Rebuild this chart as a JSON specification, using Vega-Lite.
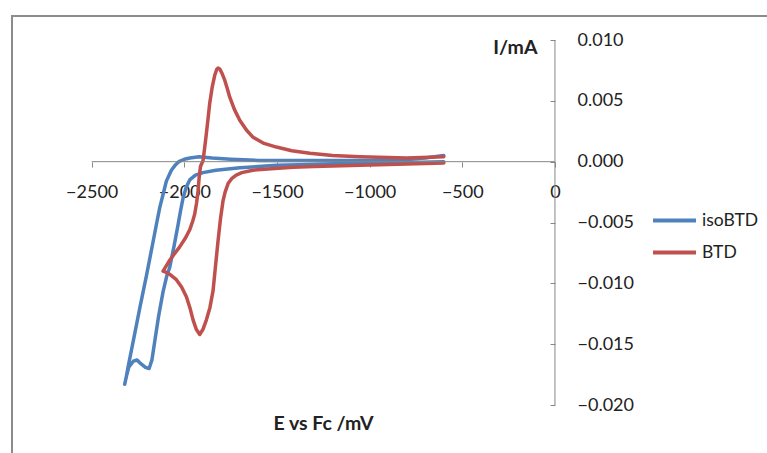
{
  "$schema": "https://vega.github.io/schema/vega-lite/v6.json",
  "width": 757,
  "height": 439,
  "autosize": {"type": "none"},
  "padding": {"left": 12, "top": 16, "right": -2, "bottom": -2},
  "background": "white",
  "config": {
    "view": {"stroke": "#8c8c8c", "strokeWidth": 2},
    "font": "Lato",
    "axis": {
      "grid": false,
      "domain": false,
      "tickColor": "#868686",
      "tickWidth": 1,
      "labelFont": "Lato",
      "labelFontSize": 18,
      "labelColor": "#222222",
      "titleFont": "Lato",
      "titleFontSize": 19.5,
      "titleFontWeight": "bold",
      "titleColor": "#222222"
    }
  },
  "layer": [
    {
      "data": {"values": [
        {"series": "isoBTD", "i": 0, "E": -600, "I": 0.0005},
        {"series": "isoBTD", "i": 1, "E": -700, "I": 0.0003},
        {"series": "isoBTD", "i": 2, "E": -800, "I": 0.0002},
        {"series": "isoBTD", "i": 3, "E": -1000, "I": 0.0001},
        {"series": "isoBTD", "i": 4, "E": -1200, "I": 0.0001},
        {"series": "isoBTD", "i": 5, "E": -1400, "I": 0.0001},
        {"series": "isoBTD", "i": 6, "E": -1600, "I": 0.0001},
        {"series": "isoBTD", "i": 7, "E": -1750, "I": 0.0002},
        {"series": "isoBTD", "i": 8, "E": -1850, "I": 0.0003},
        {"series": "isoBTD", "i": 9, "E": -1920, "I": 0.0004},
        {"series": "isoBTD", "i": 10, "E": -1970, "I": 0.0003},
        {"series": "isoBTD", "i": 11, "E": -2000, "I": 0.0002},
        {"series": "isoBTD", "i": 12, "E": -2030, "I": 0.0000},
        {"series": "isoBTD", "i": 13, "E": -2050, "I": -0.0003},
        {"series": "isoBTD", "i": 14, "E": -2070, "I": -0.0007},
        {"series": "isoBTD", "i": 15, "E": -2097, "I": -0.0016},
        {"series": "isoBTD", "i": 16, "E": -2115, "I": -0.0027},
        {"series": "isoBTD", "i": 17, "E": -2133, "I": -0.0038},
        {"series": "isoBTD", "i": 18, "E": -2150, "I": -0.0051},
        {"series": "isoBTD", "i": 19, "E": -2169, "I": -0.0066},
        {"series": "isoBTD", "i": 20, "E": -2205, "I": -0.0094},
        {"series": "isoBTD", "i": 21, "E": -2240, "I": -0.0120},
        {"series": "isoBTD", "i": 22, "E": -2275, "I": -0.0147},
        {"series": "isoBTD", "i": 23, "E": -2300, "I": -0.0166},
        {"series": "isoBTD", "i": 24, "E": -2315, "I": -0.0178},
        {"series": "isoBTD", "i": 25, "E": -2322, "I": -0.0183},
        {"series": "isoBTD", "i": 26, "E": -2312, "I": -0.0176},
        {"series": "isoBTD", "i": 27, "E": -2300, "I": -0.0169},
        {"series": "isoBTD", "i": 28, "E": -2275, "I": -0.0164},
        {"series": "isoBTD", "i": 29, "E": -2255, "I": -0.0163},
        {"series": "isoBTD", "i": 30, "E": -2235, "I": -0.0166},
        {"series": "isoBTD", "i": 31, "E": -2210, "I": -0.0169},
        {"series": "isoBTD", "i": 32, "E": -2190, "I": -0.0170},
        {"series": "isoBTD", "i": 33, "E": -2175, "I": -0.0163},
        {"series": "isoBTD", "i": 34, "E": -2160, "I": -0.0148},
        {"series": "isoBTD", "i": 35, "E": -2140, "I": -0.0128},
        {"series": "isoBTD", "i": 36, "E": -2115, "I": -0.0107},
        {"series": "isoBTD", "i": 37, "E": -2095, "I": -0.0094},
        {"series": "isoBTD", "i": 38, "E": -2079, "I": -0.0087},
        {"series": "isoBTD", "i": 39, "E": -2055, "I": -0.0069},
        {"series": "isoBTD", "i": 40, "E": -2034, "I": -0.0052},
        {"series": "isoBTD", "i": 41, "E": -2020, "I": -0.0040},
        {"series": "isoBTD", "i": 42, "E": -2007, "I": -0.0030},
        {"series": "isoBTD", "i": 43, "E": -1990, "I": -0.0021},
        {"series": "isoBTD", "i": 44, "E": -1971, "I": -0.0015},
        {"series": "isoBTD", "i": 45, "E": -1940, "I": -0.0011},
        {"series": "isoBTD", "i": 46, "E": -1900, "I": -0.0009},
        {"series": "isoBTD", "i": 47, "E": -1830, "I": -0.0007},
        {"series": "isoBTD", "i": 48, "E": -1700, "I": -0.0005},
        {"series": "isoBTD", "i": 49, "E": -1500, "I": -0.0003},
        {"series": "isoBTD", "i": 50, "E": -1200, "I": -0.0002},
        {"series": "isoBTD", "i": 51, "E": -900, "I": -0.0001},
        {"series": "isoBTD", "i": 52, "E": -600, "I": 0.0000},
        {"series": "BTD", "i": 0, "E": -600, "I": -0.0001},
        {"series": "BTD", "i": 1, "E": -800, "I": -0.0002},
        {"series": "BTD", "i": 2, "E": -1050, "I": -0.0003},
        {"series": "BTD", "i": 3, "E": -1300, "I": -0.0004},
        {"series": "BTD", "i": 4, "E": -1414, "I": -0.00045},
        {"series": "BTD", "i": 5, "E": -1550, "I": -0.0006},
        {"series": "BTD", "i": 6, "E": -1630, "I": -0.0007},
        {"series": "BTD", "i": 7, "E": -1690, "I": -0.0009},
        {"series": "BTD", "i": 8, "E": -1720, "I": -0.0011},
        {"series": "BTD", "i": 9, "E": -1745, "I": -0.0014},
        {"series": "BTD", "i": 10, "E": -1764, "I": -0.0018},
        {"series": "BTD", "i": 11, "E": -1780, "I": -0.0025},
        {"series": "BTD", "i": 12, "E": -1791, "I": -0.0032},
        {"series": "BTD", "i": 13, "E": -1805, "I": -0.0047},
        {"series": "BTD", "i": 14, "E": -1818, "I": -0.0065},
        {"series": "BTD", "i": 15, "E": -1832, "I": -0.0086},
        {"series": "BTD", "i": 16, "E": -1845, "I": -0.0106},
        {"series": "BTD", "i": 17, "E": -1862, "I": -0.0120},
        {"series": "BTD", "i": 18, "E": -1881, "I": -0.0130},
        {"series": "BTD", "i": 19, "E": -1900, "I": -0.0138},
        {"series": "BTD", "i": 20, "E": -1917, "I": -0.0142},
        {"series": "BTD", "i": 21, "E": -1935, "I": -0.0138},
        {"series": "BTD", "i": 22, "E": -1953, "I": -0.0130},
        {"series": "BTD", "i": 23, "E": -1970, "I": -0.0120},
        {"series": "BTD", "i": 24, "E": -1989, "I": -0.0111},
        {"series": "BTD", "i": 25, "E": -2015, "I": -0.0103},
        {"series": "BTD", "i": 26, "E": -2043, "I": -0.0097},
        {"series": "BTD", "i": 27, "E": -2075, "I": -0.0093},
        {"series": "BTD", "i": 28, "E": -2097, "I": -0.0091},
        {"series": "BTD", "i": 29, "E": -2115, "I": -0.0090},
        {"series": "BTD", "i": 30, "E": -2095, "I": -0.0085},
        {"series": "BTD", "i": 31, "E": -2079, "I": -0.0081},
        {"series": "BTD", "i": 32, "E": -2050, "I": -0.0075},
        {"series": "BTD", "i": 33, "E": -2025, "I": -0.0070},
        {"series": "BTD", "i": 34, "E": -1995, "I": -0.0063},
        {"series": "BTD", "i": 35, "E": -1971, "I": -0.0056},
        {"series": "BTD", "i": 36, "E": -1955, "I": -0.0049},
        {"series": "BTD", "i": 37, "E": -1944, "I": -0.0043},
        {"series": "BTD", "i": 38, "E": -1934, "I": -0.0034},
        {"series": "BTD", "i": 39, "E": -1926, "I": -0.0024},
        {"series": "BTD", "i": 40, "E": -1920, "I": -0.0013},
        {"series": "BTD", "i": 41, "E": -1913, "I": -0.0004},
        {"series": "BTD", "i": 42, "E": -1899, "I": 0.0001},
        {"series": "BTD", "i": 43, "E": -1885, "I": 0.0018},
        {"series": "BTD", "i": 44, "E": -1873, "I": 0.0034},
        {"series": "BTD", "i": 45, "E": -1863, "I": 0.0048},
        {"series": "BTD", "i": 46, "E": -1850, "I": 0.0061},
        {"series": "BTD", "i": 47, "E": -1836, "I": 0.0071},
        {"series": "BTD", "i": 48, "E": -1825, "I": 0.0076},
        {"series": "BTD", "i": 49, "E": -1818, "I": 0.0077},
        {"series": "BTD", "i": 50, "E": -1808, "I": 0.0076},
        {"series": "BTD", "i": 51, "E": -1795, "I": 0.0072},
        {"series": "BTD", "i": 52, "E": -1782, "I": 0.0067},
        {"series": "BTD", "i": 53, "E": -1768, "I": 0.0060},
        {"series": "BTD", "i": 54, "E": -1755, "I": 0.0053},
        {"series": "BTD", "i": 55, "E": -1730, "I": 0.0043},
        {"series": "BTD", "i": 56, "E": -1701, "I": 0.0034},
        {"series": "BTD", "i": 57, "E": -1665, "I": 0.0026},
        {"series": "BTD", "i": 58, "E": -1629, "I": 0.0020},
        {"series": "BTD", "i": 59, "E": -1570, "I": 0.0015},
        {"series": "BTD", "i": 60, "E": -1503, "I": 0.0012},
        {"series": "BTD", "i": 61, "E": -1420, "I": 0.0009},
        {"series": "BTD", "i": 62, "E": -1323, "I": 0.0007},
        {"series": "BTD", "i": 63, "E": -1200, "I": 0.0005},
        {"series": "BTD", "i": 64, "E": -1053, "I": 0.0004},
        {"series": "BTD", "i": 65, "E": -800, "I": 0.0003},
        {"series": "BTD", "i": 66, "E": -600, "I": 0.0004}
      ]},
      "mark": {"type": "line", "strokeWidth": 3.5, "strokeJoin": "round", "strokeCap": "round"},
      "encoding": {
        "x": {
          "field": "E",
          "type": "quantitative",
          "scale": {"domain": [-2930, 1155], "nice": false, "zero": false},
          "axis": {
            "values": [-2500, -2000, -1500, -1000, -500, 0],
            "orient": "bottom",
            "offset": -293,
            "tickSize": 5,
            "labelPadding": 16,
            "format": "d",
            "labelFlush": false,
            "labelOverlap": false,
            "title": "E vs Fc /mV",
            "titleX": 311,
            "titleY": 261,
            "titleAlign": "center",
            "titleBaseline": "middle",
            "titleAngle": 0
          }
        },
        "y": {
          "field": "I",
          "type": "quantitative",
          "scale": {"domain": [-0.024109, 0.011973], "nice": false, "zero": false},
          "axis": {
            "values": [-0.02, -0.015, -0.01, -0.005, 0, 0.005, 0.01],
            "orient": "right",
            "offset": -214,
            "tickSize": -5,
            "labelPadding": 27,
            "format": ".3f",
            "labelFlush": false,
            "labelOverlap": false,
            "labelBaseline": "middle",
            "title": "I/mA",
            "titleX": -18,
            "titleY": 31.5,
            "titleAlign": "right",
            "titleBaseline": "middle",
            "titleAngle": 0
          }
        },
        "color": {
          "field": "series",
          "type": "nominal",
          "scale": {"domain": ["isoBTD", "BTD"], "range": ["#4F81BD", "#C0504D"]},
          "legend": {
            "orient": "none",
            "legendX": 639,
            "legendY": 181,
            "title": null,
            "padding": 0,
            "symbolType": "stroke",
            "symbolSize": 1849,
            "symbolStrokeWidth": 4,
            "labelFont": "Lato",
            "labelFontSize": 17.5,
            "labelColor": "#222222",
            "labelOffset": 4,
            "rowPadding": -3
          }
        },
        "order": {"field": "i"}
      }
    },
    {
      "data": {"values": [{}]},
      "mark": {"type": "rule", "color": "#868686", "strokeWidth": 1},
      "encoding": {
        "x": {"datum": -2500, "type": "quantitative"},
        "x2": {"datum": 0},
        "y": {"datum": 0, "type": "quantitative"}
      }
    },
    {
      "data": {"values": [{}]},
      "mark": {"type": "rule", "color": "#868686", "strokeWidth": 1},
      "encoding": {
        "x": {"datum": 0, "type": "quantitative"},
        "y": {"datum": -0.02, "type": "quantitative"},
        "y2": {"datum": 0.01}
      }
    }
  ]
}
